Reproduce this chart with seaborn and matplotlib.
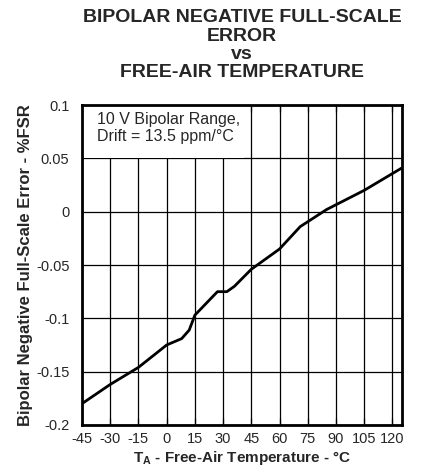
import matplotlib
matplotlib.use("Agg")
import matplotlib.pyplot as plt
import seaborn as sns
from matplotlib.patches import Rectangle

# Values
temp_c = [-45, -30, -15, 0, 8, 12, 15, 27, 32, 36, 45, 60, 71, 85, 105, 125]
error_fsr = [-0.180, -0.162, -0.146, -0.125, -0.119, -0.111, -0.097, -0.075,
             -0.075, -0.070, -0.054, -0.035, -0.014, 0.002, 0.020, 0.041]

x_ticks = [-45, -30, -15, 0, 15, 30, 45, 60, 75, 90, 105, 120]
y_ticks = [-0.2, -0.15, -0.1, -0.05, 0, 0.05, 0.1]
y_tick_labels = ["-0.2", "-0.15", "-0.1", "-0.05", "0", "0.05", "0.1"]

sns.set_style("white")
plt.rcParams["font.family"] = ["Liberation Sans", "DejaVu Sans"]
plt.rcParams["mathtext.fontset"] = "custom"
plt.rcParams["mathtext.rm"] = "Liberation Sans"
plt.rcParams["mathtext.bf"] = "Liberation Sans:bold"
plt.rcParams["axes.unicode_minus"] = False

fig = plt.figure(figsize=(4.27, 4.74), dpi=100)
ax = fig.add_axes([0.192, 0.1034, 0.749, 0.675])

# grid lines, drawn under the label box
for xv in x_ticks:
    ax.axvline(xv, color="black", linewidth=0.9, zorder=0.5)
for yv in y_ticks:
    ax.axhline(yv, color="black", linewidth=0.9, zorder=0.5)

ax.add_patch(Rectangle((-45, 0.05), 86, 0.05, facecolor="white",
                       edgecolor="none", zorder=1))

sns.lineplot(x=temp_c, y=error_fsr, color="black", linewidth=2, ax=ax, zorder=3)

ax.set_xlim(-45, 125)
ax.set_ylim(-0.2, 0.1)
ax.set_xticks(x_ticks)
ax.set_yticks(y_ticks)
ax.set_yticklabels(y_tick_labels)
ax.tick_params(axis="both", labelsize=10.5, direction="in", length=5,
               width=0.9, color="black", top=True, bottom=True,
               left=False, right=False)
ax.tick_params(axis="x", pad=5)
ax.tick_params(axis="y", pad=9)

for sp in ax.spines.values():
    sp.set_linewidth(2)
    sp.set_color("black")
    sp.set_zorder(4)

ax.text(-37, 0.0935, "10 V Bipolar Range,\nDrift = 13.5 ppm/°C",
        fontsize=11.5, va="top", ha="left", linespacing=1.15, zorder=2)

ax.set_xlabel(r"$\mathbf{T_A}$ - Free-Air Temperature - °C",
              fontsize=11, fontweight="bold", labelpad=2)
ax.set_ylabel("Bipolar Negative Full-Scale Error - %FSR",
              fontsize=12, fontweight="bold", labelpad=2)
ax.set_title("BIPOLAR NEGATIVE FULL-SCALE\nERROR\nvs\nFREE-AIR TEMPERATURE",
             fontsize=14, fontweight="bold", linespacing=1.1, pad=20)

fig.savefig("out.png", dpi=100)
